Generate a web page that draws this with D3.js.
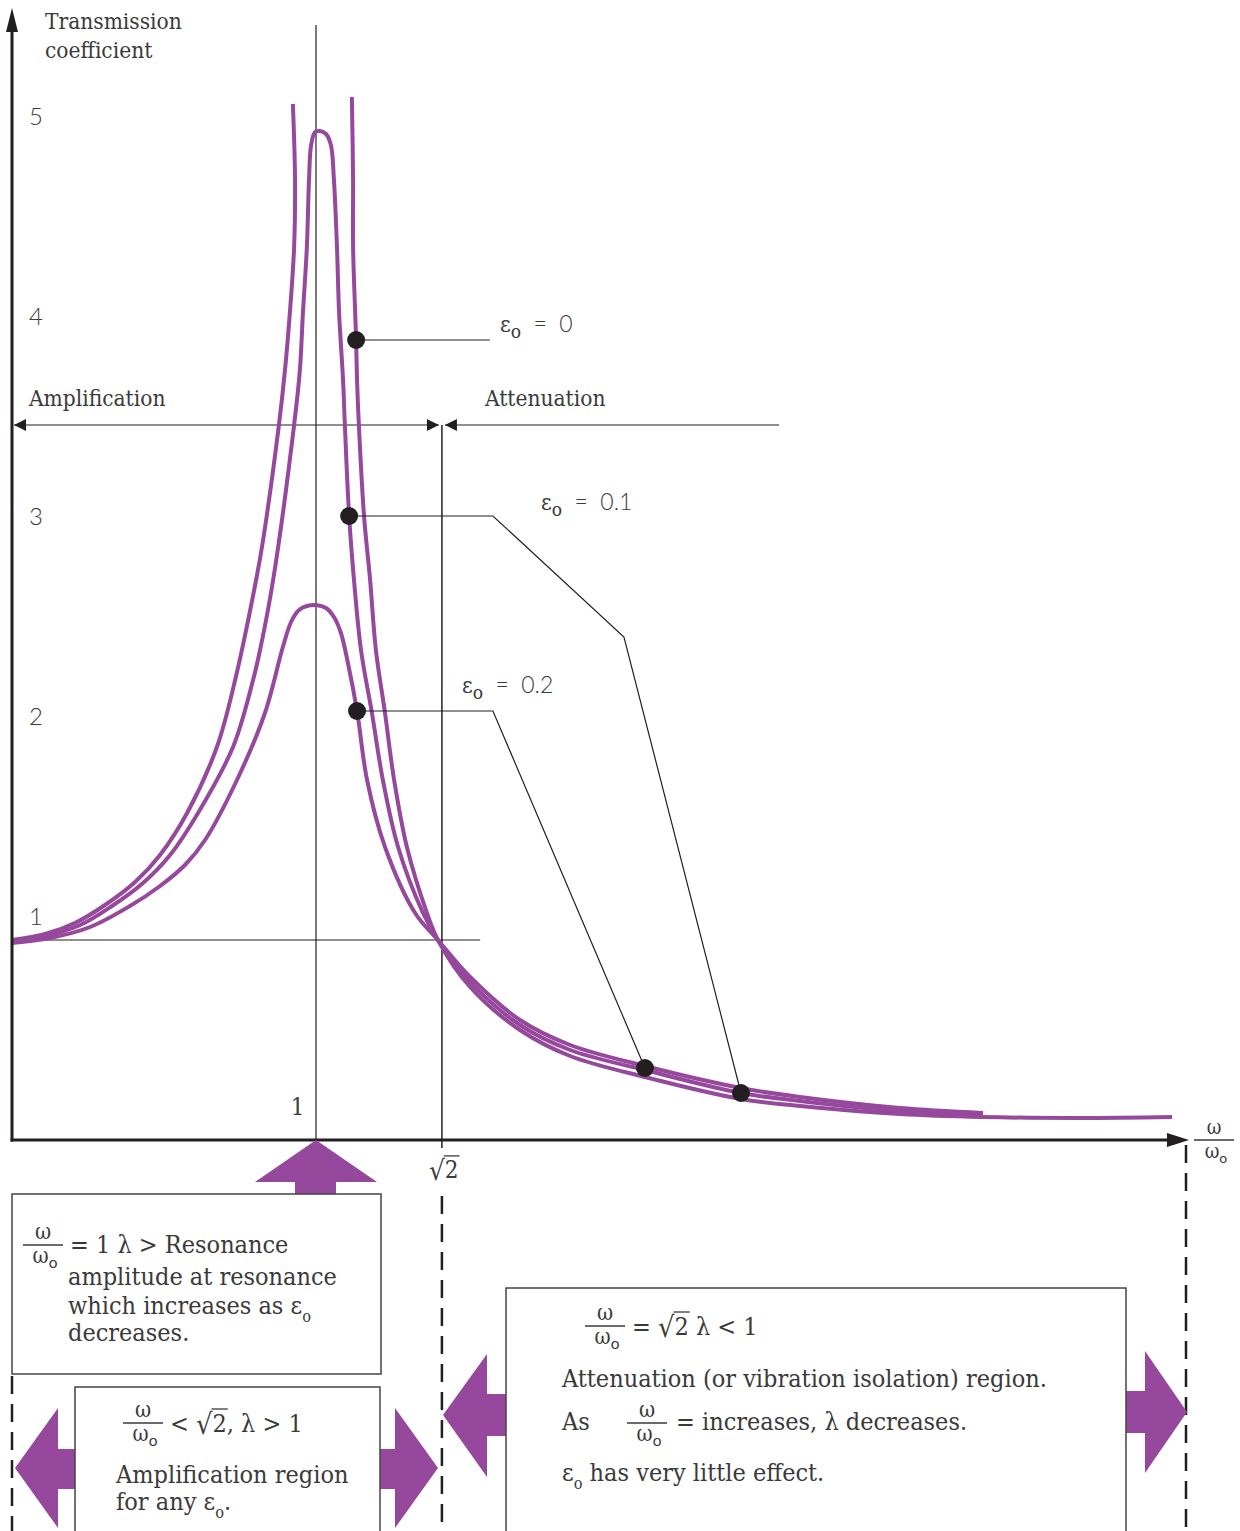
<!DOCTYPE html>
<html>
<head>
<meta charset="utf-8">
<script src="https://cdn.jsdelivr.net/npm/d3@7"></script>
<style>
  body { margin: 0; background: #fff; }
  svg { display: block; }
</style>
</head>
<body>
<div class="chart"></div>
<script>
// ratio w/w0 and transmission coefficient
var eps0Left = [[0,1.00],[0.109,1.03],[0.207,1.085],[0.306,1.175],[0.405,1.29],[0.487,1.425],[0.576,1.635],[0.674,1.965],[0.734,2.30],[0.803,2.80],[0.826,3.00],[0.878,3.575],[0.898,3.85],[0.914,4.135],[0.928,4.465],[0.931,4.80],[0.924,5.18]];
var eps0Right = [[1.118,5.215],[1.122,4.80],[1.122,4.465],[1.132,4.00],[1.135,3.80],[1.141,3.575],[1.158,3.12],[1.178,2.80],[1.197,2.45],[1.227,2.135],[1.257,1.80],[1.299,1.465],[1.365,1.135],[1.401,1.00],[1.507,0.765],[1.671,0.55],[1.836,0.42],[2.082,0.315],[2.398,0.205],[2.592,0.17],[2.921,0.13],[3.194,0.115],[3.513,0.11],[3.816,0.115]];
var eps01 = [[0,0.995],[0.109,1.02],[0.224,1.075],[0.329,1.17],[0.431,1.285],[0.520,1.425],[0.612,1.635],[0.727,1.965],[0.793,2.30],[0.816,2.45],[0.859,2.80],[0.928,3.575],[0.947,3.85],[0.957,4.135],[0.970,4.465],[0.977,4.80],[0.984,4.975],[0.997,5.04],[1.013,5.045],[1.033,5.03],[1.049,4.975],[1.059,4.80],[1.069,4.465],[1.076,4.135],[1.089,3.80],[1.095,3.575],[1.109,3.12],[1.125,2.80],[1.148,2.45],[1.184,2.135],[1.220,1.80],[1.270,1.465],[1.352,1.135],[1.401,1.00],[1.507,0.79],[1.671,0.575],[1.836,0.45],[2.082,0.35],[2.398,0.235],[2.592,0.195],[2.921,0.145],[3.194,0.125]];
var eps02 = [[0,0.985],[0.125,1.01],[0.257,1.065],[0.388,1.17],[0.487,1.27],[0.569,1.375],[0.635,1.50],[0.740,1.80],[0.832,2.135],[0.891,2.465],[0.918,2.59],[0.944,2.65],[0.970,2.67],[1.000,2.675],[1.033,2.66],[1.059,2.615],[1.082,2.535],[1.105,2.385],[1.135,2.145],[1.168,1.80],[1.227,1.465],[1.326,1.135],[1.401,1.00],[1.507,0.815],[1.671,0.60],[1.836,0.475],[2.082,0.37],[2.398,0.26],[2.592,0.215],[2.921,0.16],[3.194,0.135]];

var markers = [[1.132,4.00],[1.109,3.12],[1.135,2.145],[2.082,0.36],[2.398,0.235]];
var leaders = [
  [[1.132,4.00],[1.572,4.00]],
  [[1.109,3.12],[1.582,3.12],[2.013,2.515],[2.398,0.235]],
  [[1.135,2.145],[1.582,2.145],[2.082,0.36]]
];
var epsLabels = [["0",1.605,4.04],["0.1",1.740,3.15],["0.2",1.480,2.235]];

var yTicks = [1, 2, 3, 4, 5];
var xTicks = [1];

var width = 1240, height = 1531;
var purple = "#96489c", ink = "#231f20", grey = "#3a3a3a";
var serif = "'DejaVu Serif Condensed', 'DejaVu Serif', serif";
var sans = "Lato, 'Open Sans', sans-serif";

var x = d3.scaleLinear().domain([0, 3.86]).range([12, 12 + 304 * 3.86]);
var y = d3.scaleLinear().domain([0, 5]).range([1140, 140]);

var svg = d3.select(".chart").append("svg")
    .attr("width", width)
    .attr("height", height);

// guide lines
svg.append("line").attr("x1", x(1)).attr("x2", x(1)).attr("y1", 25).attr("y2", y(0))
    .attr("stroke", ink).attr("stroke-width", 1.2);
svg.append("line").attr("x1", x(Math.SQRT2)).attr("x2", x(Math.SQRT2)).attr("y1", 425).attr("y2", y(0) + 8)
    .attr("stroke", ink).attr("stroke-width", 1.5);
svg.append("line").attr("x1", x(0)).attr("x2", x(1.54)).attr("y1", y(1)).attr("y2", y(1))
    .attr("stroke", ink).attr("stroke-width", 1.2);

function tri(pts) {
  svg.append("path").attr("d", "M" + pts.join("L") + "Z").attr("fill", ink);
}

// amplification / attenuation arrows
var ya = 425, sx = x(Math.SQRT2);
svg.append("line").attr("x1", 14).attr("x2", sx - 3).attr("y1", ya).attr("y2", ya).attr("stroke", ink).attr("stroke-width", 1.2);
svg.append("line").attr("x1", sx + 3).attr("x2", 779).attr("y1", ya).attr("y2", ya).attr("stroke", ink).attr("stroke-width", 1.2);
tri([[14, ya], [26, ya - 6], [26, ya + 6]]);
tri([[sx - 3, ya], [sx - 15, ya - 6], [sx - 15, ya + 6]]);
tri([[sx + 3, ya], [sx + 15, ya - 6], [sx + 15, ya + 6]]);

svg.append("text").attr("x", 29).attr("y", 406).attr("font-family", serif).attr("font-size", 22.5)
    .attr("fill", grey).text("Amplification");
svg.append("text").attr("x", 485).attr("y", 406).attr("font-family", serif).attr("font-size", 22.5)
    .attr("fill", grey).text("Attenuation");

// curves
var line = d3.line()
    .x(function(d) { return x(d[0]); })
    .y(function(d) { return y(d[1]); })
    .curve(d3.curveCatmullRom.alpha(0.5));

[eps0Left, eps0Right, eps01, eps02].forEach(function(c) {
  svg.append("path").attr("d", line(c)).attr("fill", "none")
      .attr("stroke", purple).attr("stroke-width", 4);
});

// leaders and labels
var straight = d3.line().x(function(d) { return x(d[0]); }).y(function(d) { return y(d[1]); });
leaders.forEach(function(l) {
  svg.append("path").attr("d", straight(l)).attr("fill", "none").attr("stroke", ink).attr("stroke-width", 1.2);
});
svg.selectAll(".dot").data(markers).enter().append("circle")
    .attr("cx", function(d) { return x(d[0]); })
    .attr("cy", function(d) { return y(d[1]); })
    .attr("r", 9).attr("fill", ink);

epsLabels.forEach(function(d) {
  var t = svg.append("text").attr("x", x(d[1])).attr("y", y(d[2])).attr("fill", grey)
      .attr("font-size", 23).attr("xml:space", "preserve");
  t.append("tspan").attr("font-family", serif).text("ε");
  t.append("tspan").attr("font-family", serif).attr("font-size", 19).attr("dy", 6).text("o");
  t.append("tspan").attr("font-family", sans).attr("font-weight", 300).attr("dy", -6).text("  =  " + d[0]);
});

// axes
svg.append("line").attr("x1", x(0)).attr("x2", x(0)).attr("y1", y(0) + 1.5).attr("y2", 28)
    .attr("stroke", ink).attr("stroke-width", 3);
tri([[12, 8], [6, 32], [18, 32]]);
svg.append("line").attr("x1", x(0) - 1.5).attr("x2", 1172).attr("y1", y(0)).attr("y2", y(0))
    .attr("stroke", ink).attr("stroke-width", 3);
tri([[1189, y(0)], [1167, y(0) - 7], [1167, y(0) + 7]]);

var yAxis = svg.append("g").attr("transform", "translate(" + x(0) + ",0)")
    .call(d3.axisRight(y).tickValues(yTicks).tickSize(0).tickPadding(17).tickFormat(d3.format("d")));
yAxis.select(".domain").remove();
yAxis.selectAll("text").attr("y", -16).attr("dy", 0)
    .attr("font-family", sans).attr("font-weight", 300).attr("font-size", 24).attr("fill", grey);

var xAxis = svg.append("g").attr("transform", "translate(0," + y(0) + ")")
    .call(d3.axisTop(x).tickValues(xTicks).tickSize(0).tickPadding(25).tickFormat(d3.format("d")));
xAxis.select(".domain").remove();
xAxis.selectAll("text").attr("text-anchor", "end").attr("dx", -12).attr("dy", 0)
    .attr("font-family", serif).attr("font-size", 24).attr("fill", grey);

svg.append("text").attr("x", 45).attr("y", 29).attr("font-family", serif).attr("font-size", 22.5)
    .attr("fill", grey).text("Transmission");
svg.append("text").attr("x", 45).attr("y", 58).attr("font-family", serif).attr("font-size", 22.5)
    .attr("fill", grey).text("coefficient");

// inline text helpers
function run(g, x0, yb, parts, size) {
  var cx = x0;
  parts.forEach(function(p) {
    if (p.sqrt) {
      var r = g.append("text").attr("x", cx).attr("y", yb + 2).attr("font-family", serif)
          .attr("font-size", size * 1.15).attr("fill", grey).text("√");
      cx += r.node().getComputedTextLength();
      var n = g.append("text").attr("x", cx).attr("y", yb).attr("font-family", serif)
          .attr("font-size", size).attr("fill", grey).text(p.sqrt);
      var w = n.node().getComputedTextLength();
      g.append("line").attr("x1", cx - 1).attr("x2", cx + w + 1)
          .attr("y1", yb - size * 0.92).attr("y2", yb - size * 0.92)
          .attr("stroke", grey).attr("stroke-width", 1.3);
      cx += w;
    } else {
      var t = g.append("text").attr("x", cx).attr("y", yb).attr("font-family", serif)
          .attr("font-size", size).attr("fill", grey).attr("xml:space", "preserve");
      t.append("tspan").text(p.t);
      if (p.sub) t.append("tspan").attr("font-size", size * 0.65).attr("dy", size * 0.3).text(p.sub);
      cx += t.node().getComputedTextLength();
    }
  });
  return cx;
}

function frac(g, cx, yb, w, size) {
  g.append("line").attr("x1", cx - w / 2).attr("x2", cx + w / 2).attr("y1", yb).attr("y2", yb)
      .attr("stroke", grey).attr("stroke-width", 1.3);
  g.append("text").attr("x", cx).attr("y", yb - 6).attr("text-anchor", "middle")
      .attr("font-family", serif).attr("font-size", size).attr("fill", grey).text("ω");
  var t = g.append("text").attr("x", cx + 2).attr("y", yb + 18).attr("text-anchor", "middle")
      .attr("font-family", serif).attr("font-size", size).attr("fill", grey);
  t.append("tspan").text("ω");
  t.append("tspan").attr("font-family", sans).attr("font-size", size * 0.7).attr("dy", 5).text("o");
}

// x-axis end label and √2 tick label
frac(svg, 1214, y(0), 40, 20);
run(svg, 429, 1178, [{sqrt: "2"}], 24);

// dashed region boundaries
[[x(0), 1376], [x(Math.SQRT2), 1196], [1186, 1145]].forEach(function(d) {
  svg.append("line").attr("x1", d[0]).attr("x2", d[0]).attr("y1", d[1]).attr("y2", height)
      .attr("stroke", ink).attr("stroke-width", 2.5).attr("stroke-dasharray", "18,10");
});

function fat(pts) {
  svg.append("path").attr("d", "M" + pts.join("L") + "Z").attr("fill", purple);
}
// resonance arrow
fat([[x(1), y(0)], [377, 1182], [336, 1182], [336, 1195], [295, 1195], [295, 1182], [255, 1182]]);
// amplification arrows
fat([[15, 1468], [58, 1408], [58, 1449], [76, 1449], [76, 1489], [58, 1489], [58, 1528]]);
fat([[438, 1468], [395, 1408], [395, 1449], [379, 1449], [379, 1489], [395, 1489], [395, 1528]]);
// attenuation arrows
fat([[443, 1415], [487, 1354], [487, 1394], [507, 1394], [507, 1436], [487, 1436], [487, 1477]]);
fat([[1187, 1412], [1145, 1351], [1145, 1391], [1125, 1391], [1125, 1433], [1145, 1433], [1145, 1473]]);

// boxes
function box(x0, y0, x1, y1) {
  svg.append("rect").attr("x", x0).attr("y", y0).attr("width", x1 - x0).attr("height", y1 - y0)
      .attr("fill", "#fff").attr("stroke", "#444").attr("stroke-width", 1.5);
}
box(12, 1194, 381, 1374);
box(75, 1387, 380, 1540);
box(506, 1288, 1126, 1540);

var fs = 25;
frac(svg, 43, 1245, 40, 22);
run(svg, 70, 1253, [{t: "= 1 λ > Resonance"}], fs);
run(svg, 68, 1285, [{t: "amplitude at resonance"}], fs);
run(svg, 68, 1314, [{t: "which increases as ε", sub: "o"}], fs);
run(svg, 68, 1341, [{t: "decreases."}], fs);

frac(svg, 143, 1423, 40, 22);
run(svg, 170, 1432, [{t: "< "}, {sqrt: "2"}, {t: ", λ > 1"}], fs);
run(svg, 116, 1483, [{t: "Amplification region"}], fs);
run(svg, 116, 1510, [{t: "for any ε", sub: "o"}, {t: "."}], fs);

frac(svg, 605, 1326, 40, 22);
run(svg, 632, 1335, [{t: "= "}, {sqrt: "2"}, {t: " λ < 1"}], fs);
run(svg, 562, 1387, [{t: "Attenuation (or vibration isolation) region."}], fs);
run(svg, 562, 1430, [{t: "As"}], fs);
frac(svg, 647, 1423, 40, 22);
run(svg, 676, 1430, [{t: "= increases, λ decreases."}], fs);
run(svg, 562, 1481, [{t: "ε", sub: "o"}, {t: " has very little effect."}], fs);
</script>
</body>
</html>
